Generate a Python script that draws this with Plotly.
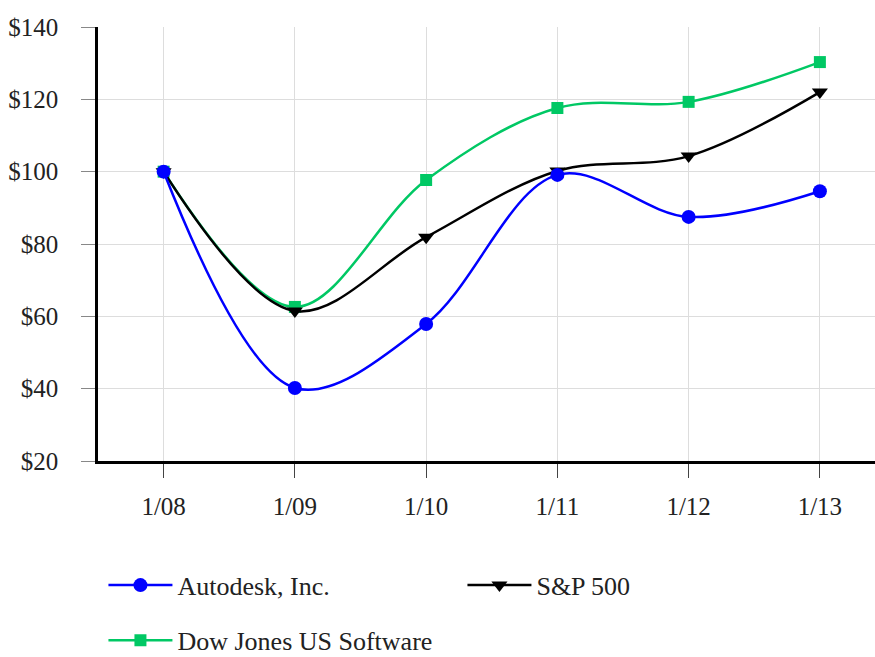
import plotly.graph_objects as go

periods = ["1/08", "1/09", "1/10", "1/11", "1/12", "1/13"]
autodesk = [100, 40.2, 57.9, 99.1, 87.5, 94.6]
sp500 = [100, 61.5, 81.9, 100.2, 104.3, 122.0]
dj_software = [100, 62.6, 97.7, 117.6, 119.3, 130.3]
y_ticks = [20, 40, 60, 80, 100, 120, 140]
y_tick_labels = ["$20", "$40", "$60", "$80", "$100", "$120", "$140"]

font_family = "Liberation Serif"

fig = go.Figure()
fig.add_trace(go.Scatter(
    x=periods, y=dj_software, name="Dow Jones US Software", mode="lines+markers",
    line=dict(color="#00C864", width=2.5, shape="spline", smoothing=1),
    marker=dict(symbol="square", size=12, color="#00C864"), legend="legend2"))
fig.add_trace(go.Scatter(
    x=periods, y=sp500, name="S&P 500", mode="lines+markers",
    line=dict(color="#000000", width=2.5, shape="spline", smoothing=1),
    marker=dict(symbol="triangle-down", size=14, color="#000000"), legend="legend", legendrank=2))
fig.add_trace(go.Scatter(
    x=periods, y=autodesk, name="Autodesk, Inc.", mode="lines+markers",
    line=dict(color="#0000FF", width=2.5, shape="spline", smoothing=1),
    marker=dict(symbol="circle", size=14, color="#0000FF"), legend="legend", legendrank=1))

fig.update_layout(
    width=875, height=657,
    margin=dict(l=98, r=0, t=27, b=196, autoexpand=False),
    paper_bgcolor="white", plot_bgcolor="white",
    font=dict(family=font_family, size=25, color="#222222"),
    showlegend=True,
    legend=dict(orientation="h", x=0.007, xanchor="left", y=-0.232, yanchor="top",
                entrywidth=280, entrywidthmode="pixels", itemwidth=64,
                font=dict(family=font_family, size=26, color="#222222"),
                traceorder="normal"),
    legend2=dict(orientation="h", x=0.007, xanchor="left", y=-0.359, yanchor="top",
                 itemwidth=64,
                 font=dict(family=font_family, size=26, color="#222222")),
)
fig.update_xaxes(
    type="category", range=[-0.5, 5.42], automargin=False,
    showgrid=True, gridcolor="#DDDDDD", gridwidth=1,
    showline=True, linecolor="#000000", linewidth=2.5,
    ticks="outside", ticklen=14, tickcolor="#444444", tickwidth=1,
    ticklabelstandoff=7, zeroline=False,
    tickfont=dict(family=font_family, size=25, color="#222222"),
)
fig.update_yaxes(
    range=[20, 140], tickvals=y_ticks, ticktext=y_tick_labels, automargin=False,
    showgrid=True, gridcolor="#DDDDDD", gridwidth=1,
    showline=True, linecolor="#000000", linewidth=2.5,
    ticks="outside", ticklen=14, tickcolor="#888888", tickwidth=1,
    ticklabelstandoff=18, zeroline=False,
    tickfont=dict(family=font_family, size=25, color="#222222"),
)

fig.write_html("out.html", config={"displayModeBar": False},
               post_script="document.body.style.margin='0';document.body.style.overflow='hidden';")
